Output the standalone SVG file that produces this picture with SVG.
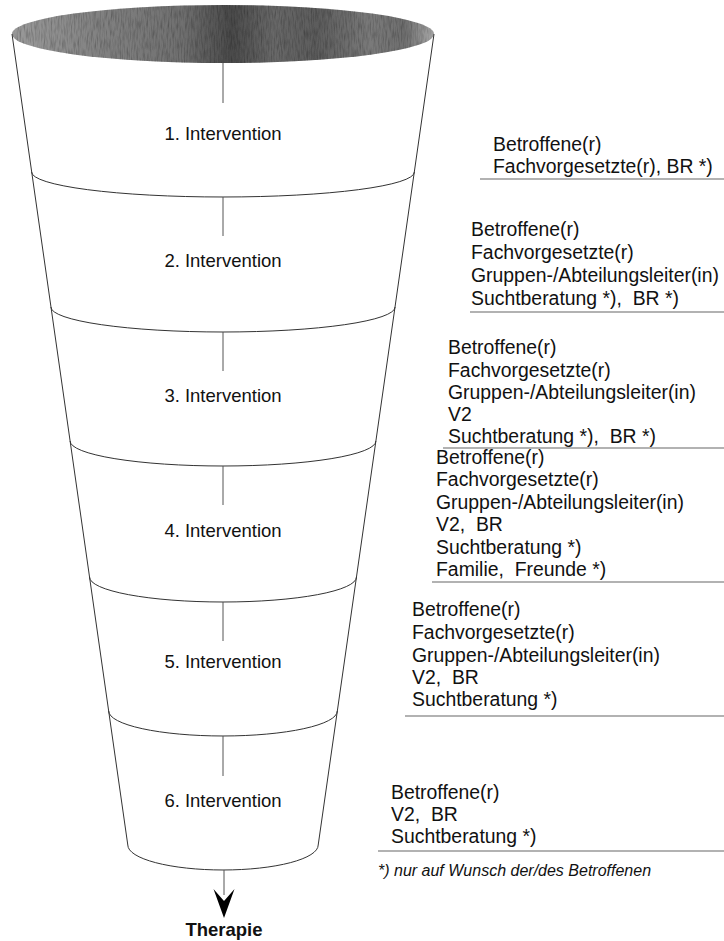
<svg xmlns="http://www.w3.org/2000/svg" width="724" height="941" viewBox="0 0 724 941">
<style>
.lbl{font-family:"Liberation Sans",Arial,sans-serif;font-size:18.5px;fill:#111;text-anchor:middle}
.t{font-family:"Liberation Sans",Arial,sans-serif;font-size:19.4px;fill:#111}
.fn{font-family:"Liberation Sans",Arial,sans-serif;font-size:16px;font-style:italic;fill:#111}
.th{font-family:"Liberation Sans",Arial,sans-serif;font-size:18.5px;font-weight:bold;fill:#111;text-anchor:middle}
.edge{fill:none;stroke:#333;stroke-width:1}
.tick{fill:none;stroke:#555;stroke-width:1}
.ul{fill:none;stroke:#666;stroke-width:1.2}
</style>
<defs>
<linearGradient id="g" x1="0" y1="0" x2="1" y2="0">
<stop offset="0" stop-color="#9a9a9a"/>
<stop offset="0.2" stop-color="#828282"/>
<stop offset="0.4" stop-color="#707070"/>
<stop offset="0.52" stop-color="#4a4a4a"/>
<stop offset="0.62" stop-color="#686868"/>
<stop offset="0.72" stop-color="#5c5c5c"/>
<stop offset="0.85" stop-color="#7a7a7a"/>
<stop offset="0.93" stop-color="#6e6e6e"/>
<stop offset="1" stop-color="#a8a8a8"/>
</linearGradient>
<filter id="noise" x="0" y="0" width="1" height="1">
<feTurbulence type="fractalNoise" baseFrequency="0.7 0.1" numOctaves="2" seed="3" result="t"/>
<feColorMatrix in="t" type="matrix" values="0 0 0 0 0  0 0 0 0 0  0 0 0 0 0  0 0 0 -0.9 0.55" result="n"/>
<feComposite in="n" in2="SourceAlpha" operator="in" result="nc"/>
<feMerge><feMergeNode in="SourceGraphic"/><feMergeNode in="nc"/></feMerge>
</filter>
</defs>

<g id="funnel">
<ellipse cx="223" cy="34" rx="211" ry="29" fill="url(#g)" filter="url(#noise)"/>
<path class="edge" d="M12,34 L127.8,845"/>
<path class="edge" d="M434,34 L318.2,845"/>
</g>

<g id="stage1">
<path class="tick" d="M223,63 V103"/>
<text class="lbl" x="223" y="140">1. Intervention</text>
<path class="edge" d="M31.6,172 A191.4,25 0 0 0 414.4,172"/>
</g>
<g id="stage2">
<path class="tick" d="M223,197 V236"/>
<text class="lbl" x="223" y="267">2. Intervention</text>
<path class="edge" d="M50.9,307 A172.1,25 0 0 0 395.1,307"/>
</g>
<g id="stage3">
<path class="tick" d="M223,332 V371"/>
<text class="lbl" x="223" y="402">3. Intervention</text>
<path class="edge" d="M70.1,441 A152.9,25 0 0 0 375.9,441"/>
</g>
<g id="stage4">
<path class="tick" d="M223,466 V505"/>
<text class="lbl" x="223" y="537">4. Intervention</text>
<path class="edge" d="M89.5,577 A133.5,25 0 0 0 356.5,577"/>
</g>
<g id="stage5">
<path class="tick" d="M223,602 V641"/>
<text class="lbl" x="223" y="668">5. Intervention</text>
<path class="edge" d="M108.7,711 A114.3,25 0 0 0 337.3,711"/>
</g>
<g id="stage6">
<path class="tick" d="M223,736 V776"/>
<text class="lbl" x="223" y="807">6. Intervention</text>
<path class="edge" d="M127.8,845 A95.2,25 0 0 0 318.2,845"/>
</g>

<g id="connectors">
<path class="tick" d="M224,870 V895"/>
<path d="M224,918 L213.5,889 L224,901 L234.5,889 Z" fill="#000"/>
</g>
<g id="therapie">
<text class="th" x="224" y="936">Therapie</text>
</g>

<g id="list1">
<text class="t" x="493" y="151">Betroffene(r)</text>
<text class="t" x="493" y="173">Fachvorgesetzte(r), BR *)</text>
<path class="ul" d="M480,179 H724"/>
</g>
<g id="list2">
<text class="t" x="471" y="236">Betroffene(r)</text>
<text class="t" x="471" y="259">Fachvorgesetzte(r)</text>
<text class="t" x="471" y="282">Gruppen-/Abteilungsleiter(in)</text>
<text class="t" x="471" y="305" xml:space="preserve">Suchtberatung *),  BR *)</text>
<path class="ul" d="M470,312 H724"/>
</g>
<g id="list3">
<text class="t" x="448" y="354">Betroffene(r)</text>
<text class="t" x="448" y="377">Fachvorgesetzte(r)</text>
<text class="t" x="448" y="399">Gruppen-/Abteilungsleiter(in)</text>
<text class="t" x="448" y="421">V2</text>
<text class="t" x="448" y="443" xml:space="preserve">Suchtberatung *),  BR *)</text>
<path class="ul" d="M443,448 H724"/>
</g>
<g id="list4">
<text class="t" x="436" y="464">Betroffene(r)</text>
<text class="t" x="436" y="486">Fachvorgesetzte(r)</text>
<text class="t" x="436" y="509">Gruppen-/Abteilungsleiter(in)</text>
<text class="t" x="436" y="531" xml:space="preserve">V2,  BR</text>
<text class="t" x="436" y="554">Suchtberatung *)</text>
<text class="t" x="436" y="576" xml:space="preserve">Familie,  Freunde *)</text>
<path class="ul" d="M432,582 H724"/>
</g>
<g id="list5">
<text class="t" x="412" y="616">Betroffene(r)</text>
<text class="t" x="412" y="639">Fachvorgesetzte(r)</text>
<text class="t" x="412" y="662">Gruppen-/Abteilungsleiter(in)</text>
<text class="t" x="412" y="684" xml:space="preserve">V2,  BR</text>
<text class="t" x="412" y="706">Suchtberatung *)</text>
<path class="ul" d="M405,716 H724"/>
</g>
<g id="list6">
<text class="t" x="391" y="799">Betroffene(r)</text>
<text class="t" x="391" y="821" xml:space="preserve">V2,  BR</text>
<text class="t" x="391" y="843">Suchtberatung *)</text>
<path class="ul" d="M378,851 H724"/>
</g>
<g id="footnote">
<text class="fn" x="378" y="876">*) nur auf Wunsch der/des Betroffenen</text>
</g>
</svg>
